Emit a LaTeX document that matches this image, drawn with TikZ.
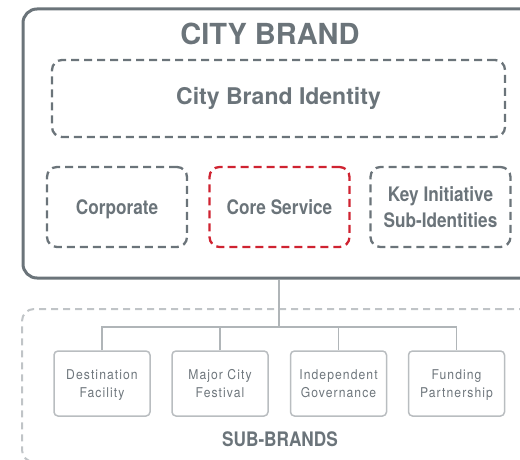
\documentclass[tikz,border=0pt]{standalone}
\usepackage{fontspec}
\setmainfont{TeX Gyre Heros}
\newfontfamily\condfont[FakeStretch=0.86]{TeX Gyre Heros}
\newfontfamily\sbfont[FakeStretch=0.9,LetterSpace=8]{TeX Gyre Heros}
\definecolor{cbgray}{HTML}{6B747A}
\definecolor{cbred}{HTML}{CF2331}
\definecolor{sbline}{HTML}{B9BDC0}
\definecolor{sbtext}{HTML}{6E767C}
\definecolor{connc}{HTML}{B0B5B8}
\definecolor{sbdash}{HTML}{C0C4C7}
\begin{document}
\begin{tikzpicture}[x=1pt,y=-1pt,
  outerbox/.style={draw=cbgray, line width=3pt, rounded corners=14pt, inner sep=0pt, anchor=north west},
  subframe/.style={draw=sbdash, line width=2pt, dash pattern=on 7pt off 5pt, rounded corners=12pt, inner sep=0pt, anchor=north west},
  dbox/.style={draw=cbgray, line width=2.3pt, dash pattern=on 8pt off 5pt, rounded corners=10pt, inner sep=0pt, align=center, text=cbgray, font=\condfont\bfseries\fontsize{20}{26}\selectfont},
  redbox/.style={dbox, draw=cbred},
  rowbox/.style={minimum width=140pt, minimum height=80pt, text depth=0pt},
  sbbox/.style={draw=sbline, line width=1.5pt, rounded corners=4pt, minimum width=96pt, minimum height=65pt, inner sep=0pt, text depth=0pt, align=center, text=sbtext, font=\sbfont\fontsize{13.5}{18}\selectfont},
  conn/.style={draw=connc, line width=1.5pt},
  titletext/.style={text=cbgray, font=\bfseries\fontsize{29}{34}\selectfont, inner sep=0pt},
  sublabel/.style={text=cbgray, font=\condfont\bfseries\fontsize{20}{24}\selectfont, inner sep=0pt}
]
\useasboundingbox (0,0) rectangle (520,460);
\clip (0,0) rectangle (520,460);

% frames
\node[outerbox, minimum width=540pt, minimum height=269pt] (city) at (21.5,7.5) {};
\node[subframe, minimum width=540pt, minimum height=153pt] (subs) at (21,308) {};

% title
\node[titletext] (title) at (270,33.5) {CITY BRAND};

% identity box
\node[dbox, minimum width=453pt, minimum height=77pt, font=\bfseries\fontsize{23}{28}\selectfont] (identity) at (278.5,98.5) {City Brand Identity};

% row boxes
\node[dbox, rowbox] (corporate) at (117,207) {Corporate};
\node[redbox, rowbox] (core) at (279.5,207) {Core Service};
\node[dbox, rowbox] (key) at (440.5,207) {Key Initiative\\Sub-Identities};

% sub-brand boxes
\node[sbbox] (sb1) at (102,383.5) {Destination\\Facility};
\node[sbbox] (sb2) at (220,383.5) {Major City\\Festival};
\node[sbbox] (sb3) at (338.5,383.5) {Independent\\Governance};
\node[sbbox] (sb4) at (456.5,383.5) {Funding\\Partnership};

\node[sublabel] (sblabel) at (280,439.5) {SUB-BRANDS};

% connectors
\coordinate (hub) at (279,327);
\draw[conn] (hub |- city.south) -- (hub);
\draw[conn] (sb1.north) |- (hub) -| (sb4.north);
\draw[conn] (sb2.north) -- (sb2.north |- hub);
\draw[conn] (sb3.north) -- (sb3.north |- hub);
\end{tikzpicture}
\end{document}
